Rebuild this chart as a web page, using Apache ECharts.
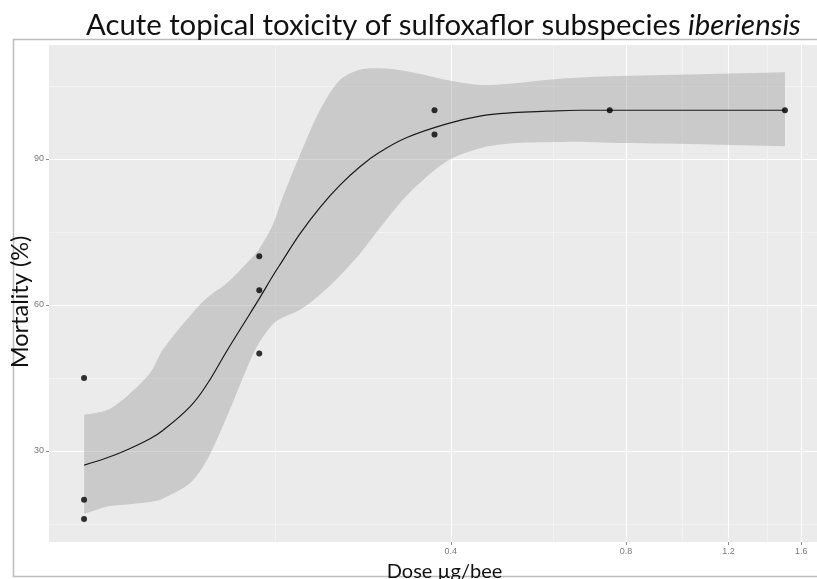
<!DOCTYPE html>
<html>
<head>
<meta charset="utf-8">
<script src="https://cdn.jsdelivr.net/npm/echarts@6/dist/echarts.min.js"></script>
<style>html,body{margin:0;padding:0;background:#fff;}#c{width:817px;height:579px;}</style>
</head>
<body>
<div id="c"></div>
<script>
// Observed points
const pointDose = [0.09375, 0.09375, 0.09375, 0.1875, 0.1875, 0.1875, 0.375, 0.375, 0.75, 1.5];
const pointMort = [45, 20, 16, 70, 63, 50, 100, 95, 100, 100];

// Fitted curve and confidence band
const gridDose = [0.0938, 0.1027, 0.111, 0.1217, 0.128, 0.1426, 0.1525, 0.165, 0.1807, 0.1875, 0.1979, 0.2051, 0.2202, 0.2383, 0.258, 0.2792, 0.3021, 0.3362, 0.3937, 0.4486, 0.5111, 0.5846, 0.666, 0.75, 1.07, 1.5];
const curveMort = [27.1, 28.6, 30.2, 32.5, 34.2, 39.1, 43.7, 50.6, 58.2, 61.3, 66.0, 68.9, 74.6, 80.0, 84.6, 88.4, 91.4, 94.4, 97.2, 98.8, 99.5, 99.8, 100, 100, 100, 100];
const bandLow = [17.1, 18.6, 19.0, 19.5, 20.2, 23.4, 28.2, 37.1, 48.5, 52.3, 56.1, 57.3, 59.0, 62.1, 66.0, 70.5, 75.8, 82.5, 89.5, 92.2, 93.2, 93.4, 93.5, 93.3, 93.0, 92.6];
const bandHigh = [37.4, 38.4, 41.2, 46.0, 50.8, 57.8, 61.5, 64.5, 69.3, 71.5, 76.5, 81.7, 90.8, 100, 106.2, 108.3, 108.6, 108.0, 106.2, 105.2, 105.5, 106.2, 106.7, 107.0, 107.4, 107.8];

// Axis ticks
const xTickDose = [0.4, 0.8, 1.2, 1.6];
const xTickLabels = ['0.4', '0.8', '1.2', '1.6'];
const xMinorDose = [0.2, 0.6, 1.0, 1.4];
const yTicks = [30, 60, 90];
const yMinor = [15, 45, 75, 105];

const L = Math.log;
const lnMin = L(Math.min(...pointDose)), lnMax = L(Math.max(...pointDose));
const span = lnMax - lnMin;
const xMin = lnMin - 0.05 * span, xMax = lnMax + 0.05 * span;
const yMin = 11.3, yMax = 113.4;

const chart = echarts.init(document.getElementById('c'));
const tickLabelStyle = { color: '#7a7a7a', fontSize: 9, fontFamily: 'Liberation Sans' };

function bandRender(params, api) {
  const top = gridDose.map((d, i) => api.coord([L(d), bandHigh[i]]));
  const bot = gridDose.map((d, i) => api.coord([L(d), bandLow[i]])).reverse();
  // duplicate the end corners so the smoothed outline keeps square ends
  const pts = [top[0]].concat(top, [top[top.length - 1]], [bot[0]], bot, [bot[bot.length - 1]]);
  return {
    type: 'polygon',
    shape: { points: pts, smooth: 0.3 },
    style: { fill: 'rgba(153,153,153,0.4)', stroke: 'none' }
  };
}

chart.setOption({
  animation: false,
  title: {
    text: 'Acute topical toxicity of sulfoxaflor subspecies {it|iberiensis}',
    left: 81, top: 6,
    textStyle: {
      fontFamily: 'Lato', fontSize: 29.3, fontWeight: 'normal', color: '#111',
      rich: { it: { fontFamily: 'Lato', fontSize: 29.3, fontStyle: 'italic', color: '#111' } }
    }
  },
  graphic: [{
    type: 'rect', shape: { x: 13.5, y: 39.5, width: 820, height: 537 },
    style: { fill: 'none', stroke: '#bdbdbd', lineWidth: 1.5 }, silent: true, z: -1
  }, {
    type: 'text', x: 20, y: 302, rotation: Math.PI / 2,
    style: { text: 'Mortality (%)', fontFamily: 'Lato', fontSize: 23.5, fill: '#111', align: 'center', verticalAlign: 'middle' },
    silent: true
  }],
  grid: {
    left: 49, top: 45, width: 771, height: 497,
    show: true, backgroundColor: '#ebebeb', borderWidth: 0,
    containLabel: false, outerBoundsMode: 'none'
  },
  xAxis: [{
    type: 'value', min: xMin, max: xMax,
    name: 'Dose µg/bee', nameLocation: 'middle', nameGap: 20,
    nameTextStyle: { fontFamily: 'Lato', fontSize: 20, color: '#111', padding: [0, 0, 0, 20] },
    axisLine: { show: false, onZero: false },
    axisTick: { show: true, length: 3, customValues: xTickDose.map(L), lineStyle: { color: '#8a8a8a' } },
    axisLabel: Object.assign({
      customValues: xTickDose.map(L), margin: 5,
      formatter: v => { const i = xTickDose.findIndex(d => Math.abs(L(d) - v) < 1e-6); return i >= 0 ? xTickLabels[i] : ''; }
    }, tickLabelStyle),
    splitLine: { show: true, lineStyle: { color: '#ffffff', width: 1.1 } }
  }, {
    type: 'value', min: xMin, max: xMax, position: 'bottom',
    axisLine: { show: false, onZero: false },
    axisTick: { show: false, customValues: xMinorDose.map(L) },
    axisLabel: { show: false },
    splitLine: { show: true, lineStyle: { color: '#f7f7f7', width: 0.6 } }
  }],
  yAxis: [{
    type: 'value', min: yMin, max: yMax,
    axisLine: { show: false, onZero: false },
    axisTick: { show: true, length: 3, customValues: yTicks, lineStyle: { color: '#8a8a8a' } },
    axisLabel: Object.assign({ customValues: yTicks, margin: 5 }, tickLabelStyle),
    splitLine: { show: true, lineStyle: { color: '#ffffff', width: 1.1 } }
  }, {
    type: 'value', min: yMin, max: yMax, position: 'left',
    axisLine: { show: false, onZero: false },
    axisTick: { show: false, customValues: yMinor },
    axisLabel: { show: false },
    splitLine: { show: true, lineStyle: { color: '#f7f7f7', width: 0.6 } }
  }],
  series: [{
    type: 'custom', name: 'band', renderItem: bandRender,
    data: [[L(gridDose[0]), bandLow[0]]], z: 2, silent: true
  }, {
    type: 'line', name: 'fit', symbol: 'none', smooth: 0.4,
    data: gridDose.map((d, i) => [L(d), curveMort[i]]),
    lineStyle: { color: '#1a1a1a', width: 1.2 }, z: 3
  }, {
    type: 'scatter', name: 'obs', symbolSize: 6,
    data: pointDose.map((d, i) => [L(d), pointMort[i]]),
    itemStyle: { color: '#000' }, z: 4
  }]
});
</script>
</body>
</html>
